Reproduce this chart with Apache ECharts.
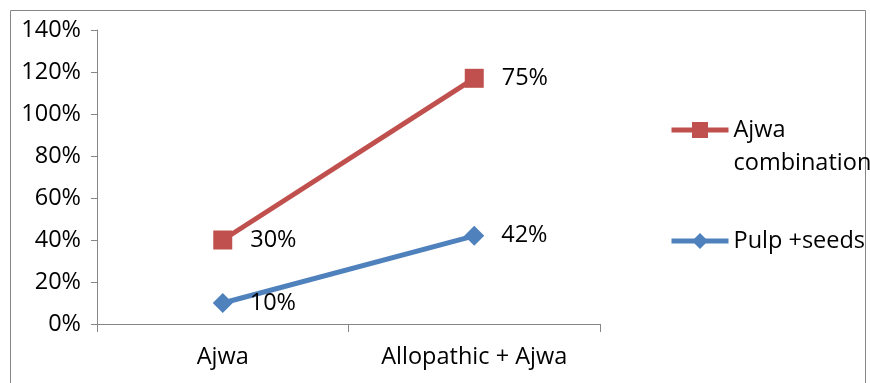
<!DOCTYPE html>
<html>
<head>
<meta charset="utf-8">
<script src="https://cdn.jsdelivr.net/npm/echarts@6/dist/echarts.min.js"></script>
<style>
  html, body { margin: 0; padding: 0; background: #fff; }
  #chart { width: 870px; height: 383px; }
</style>
</head>
<body>
<div id="chart"></div>
<script>
// Categories along the x axis
const categories = ['Ajwa', 'Allopathic + Ajwa'];
// Series values (stacked: the combination line sits on top of pulp + seeds)
const pulpSeeds = [0.10, 0.42];
const ajwaCombination = [0.30, 0.75];
// Y axis tick settings
const yMin = 0, yMax = 1.4, yStep = 0.2;

const FONT = 'Open Sans';
const FS = 23.5;
const RED = '#C0504D';
const BLUE = '#4F81BD';
const AXIS = '#868686';

const pct = v => Math.round(v * 100) + '%';

const legendCommon = {
  orient: 'vertical',
  left: 669,
  padding: 0,
  itemWidth: 57,
  itemHeight: 20,
  lineStyle: { width: 5 },
  textStyle: { fontFamily: FONT, fontSize: FS, color: '#000', lineHeight: 33 }
};

const chart = echarts.init(document.getElementById('chart'), null, { renderer: 'canvas' });
chart.setOption({
  animation: false,
  backgroundColor: '#fff',
  textStyle: { fontFamily: FONT },
  graphic: [{
    type: 'rect',
    shape: { x: 10.5, y: 10.5, width: 855, height: 380 },
    style: { fill: null, stroke: AXIS, lineWidth: 1 },
    z: -1
  }],
  grid: { left: 97, top: 30, width: 503, height: 294, containLabel: false },
  legend: [
    // two-line entry: a blank first line keeps "Ajwa" level with the icon
    Object.assign({}, legendCommon, {
      top: 80.5,
      data: ['Ajwa combination'],
      formatter: () => '\u00a0\nAjwa\ncombination'
    }),
    Object.assign({}, legendCommon, {
      top: 224.5,
      data: ['Pulp +seeds']
    })
  ],
  xAxis: {
    type: 'category',
    data: categories,
    boundaryGap: true,
    axisLine: { lineStyle: { color: AXIS, width: 1 } },
    axisTick: { show: true, length: 8, lineStyle: { color: AXIS } },
    axisLabel: { color: '#000', fontSize: FS, fontFamily: FONT, margin: 21 }
  },
  yAxis: {
    type: 'value',
    min: yMin, max: yMax, interval: yStep,
    splitLine: { show: false },
    axisLine: { show: true, lineStyle: { color: AXIS, width: 1 } },
    axisTick: { show: true, length: 6, lineStyle: { color: AXIS } },
    axisLabel: { color: '#000', fontSize: FS, fontFamily: FONT, margin: 16, formatter: pct }
  },
  series: [
    {
      name: 'Pulp +seeds',
      type: 'line',
      stack: 'total',
      data: pulpSeeds,
      symbol: 'diamond',
      symbolSize: 20,
      lineStyle: { color: BLUE, width: 5 },
      itemStyle: { color: BLUE },
      label: {
        show: true, position: 'right', distance: 17,
        formatter: p => pct(p.value),
        fontSize: FS, fontFamily: FONT, color: '#000'
      }
    },
    {
      name: 'Ajwa combination',
      type: 'line',
      stack: 'total',
      data: ajwaCombination,
      symbol: 'rect',
      symbolSize: 19,
      lineStyle: { color: RED, width: 5 },
      itemStyle: { color: RED },
      label: {
        show: true, position: 'right', distance: 18,
        formatter: p => pct(p.value),
        fontSize: FS, fontFamily: FONT, color: '#000'
      }
    }
  ]
});
</script>
</body>
</html>
